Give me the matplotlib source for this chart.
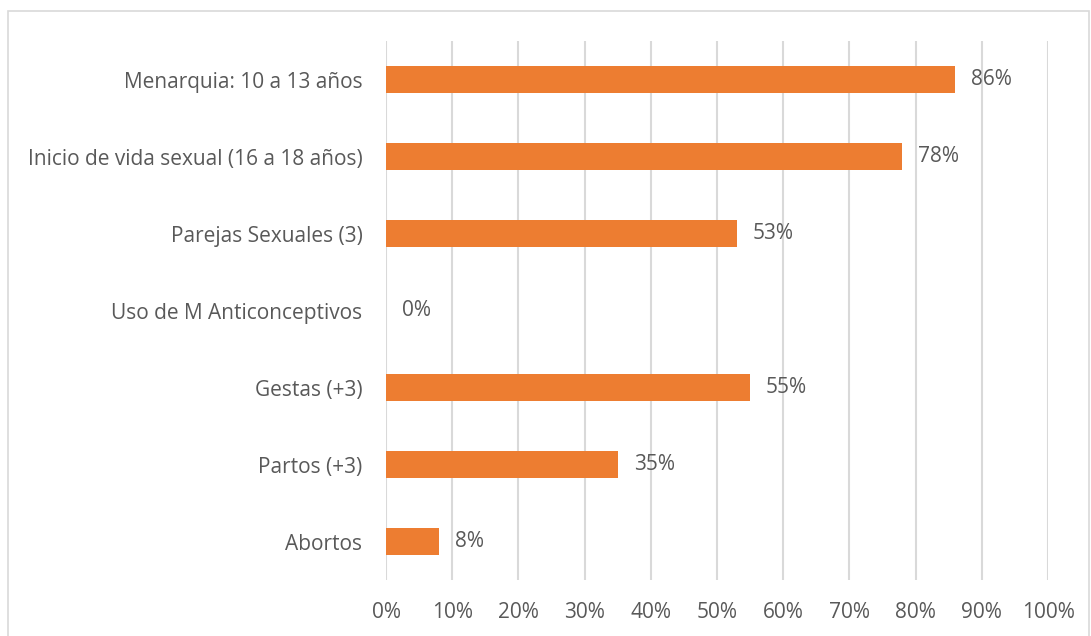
import matplotlib.pyplot as plt
from matplotlib.patches import Rectangle

categories = ['Menarquia: 10 a 13 años', 'Inicio de vida sexual (16 a 18 años)',
              'Parejas Sexuales (3)', 'Uso de M Anticonceptivos',
              'Gestas (+3)', 'Partos (+3)', 'Abortos']
values = [86, 78, 53, 0, 55, 35, 8]
ticks = [0, 10, 20, 30, 40, 50, 60, 70, 80, 90, 100]

bar_color = '#ED7D31'
text_color = '#595959'
grid_color = '#D9D9D9'

plt.rcParams['font.family'] = ['Open Sans', 'DejaVu Sans']

fig = plt.figure(figsize=(10.91, 6.36), dpi=100)
fig.patches.append(Rectangle((8 / 1091, -0.01), 1081 / 1091, 1 - 11 / 636 + 0.01,
                             transform=fig.transFigure, fill=False,
                             edgecolor='#D9D9D9', lw=1.2))
ax = fig.add_axes([386 / 1091, 1 - 580 / 636, 662 / 1091, 539 / 636])

ypos = list(range(len(categories)))
ax.barh(ypos, values, height=0.36, color=bar_color, zorder=3)
for y, v in zip(ypos, values):
    ax.annotate(f'{v}%', (v, y), xytext=(11.5, 0), textcoords='offset points',
                va='center', ha='left', fontsize=15, color=text_color)

ax.set_ylim(len(categories) - 0.5, -0.5)
ax.set_xlim(0, 100)
ax.set_xticks(ticks)
ax.set_xticklabels([f'{t}%' for t in ticks])
ax.set_yticks(ypos)
ax.set_yticklabels(categories)
ax.tick_params(axis='both', length=0, labelsize=15, labelcolor=text_color)
ax.tick_params(axis='y', pad=17)
ax.tick_params(axis='x', pad=16)
ax.xaxis.grid(True, color=grid_color, lw=1.5, zorder=0)
for s in ax.spines.values():
    s.set_visible(False)

fig.savefig('out.png', dpi=100)
